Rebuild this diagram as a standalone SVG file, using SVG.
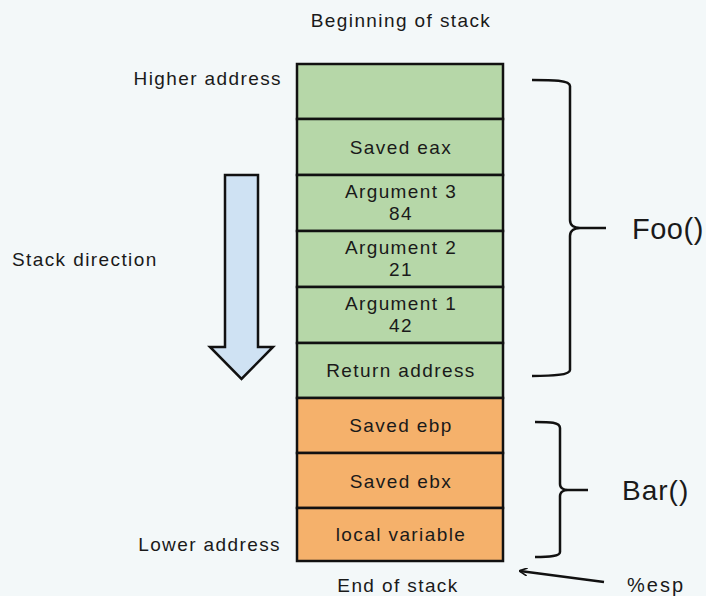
<svg xmlns="http://www.w3.org/2000/svg" width="706" height="596" viewBox="0 0 706 596">
<defs>
<style>
text{font-family:"Liberation Sans",Arial,sans-serif;fill:#1a1a1a}
.lbl{font-size:19px;letter-spacing:1.4px}
.cell{stroke:#111;stroke-width:2.5}
.g{fill:#b6d7a8}
.o{fill:#f5b16b}
.ct{font-size:19px;letter-spacing:1.4px;text-anchor:middle}
.big{font-size:28px}
.brace{fill:none;stroke:#111;stroke-width:2.5}
</style>
<marker id="ah" viewBox="0 0 10 10" refX="9" refY="5" markerWidth="8" markerHeight="8" orient="auto-start-reverse" markerUnits="userSpaceOnUse">
<path d="M0,0 L10,5 L0,10" fill="none" stroke="#111" stroke-width="2"/>
</marker>
</defs>
<rect width="706" height="596" fill="#f3f8f9"/>

<text class="lbl" x="401" y="27" text-anchor="middle">Beginning of stack</text>
<text class="lbl" x="282" y="85" text-anchor="end">Higher address</text>
<text class="lbl" x="12" y="266">Stack direction</text>
<text class="lbl" x="281" y="551" text-anchor="end">Lower address</text>
<text class="lbl" x="398" y="592" text-anchor="middle">End of stack</text>

<g id="stack-direction">
<path d="M225,175 L258,175 L258,347 L273,347 L241.5,379 L210,347 L225,347 Z" fill="#cfe2f3" stroke="#111" stroke-width="2.5" stroke-linejoin="miter"/>
</g>

<g id="cell-1"><rect class="cell g" x="297" y="64" width="206" height="55"/></g>
<g id="cell-2"><rect class="cell g" x="297" y="119" width="206" height="56"/><text class="ct" x="401" y="154">Saved eax</text></g>
<g id="cell-3"><rect class="cell g" x="297" y="175" width="206" height="56"/><text class="ct" x="401" y="198">Argument 3</text><text class="ct" x="401" y="220">84</text></g>
<g id="cell-4"><rect class="cell g" x="297" y="231" width="206" height="56"/><text class="ct" x="401" y="254">Argument 2</text><text class="ct" x="401" y="276">21</text></g>
<g id="cell-5"><rect class="cell g" x="297" y="287" width="206" height="56"/><text class="ct" x="401" y="310">Argument 1</text><text class="ct" x="401" y="332">42</text></g>
<g id="cell-6"><rect class="cell g" x="297" y="343" width="206" height="55"/><text class="ct" x="401" y="377">Return address</text></g>
<g id="cell-7"><rect class="cell o" x="297" y="398" width="206" height="55"/><text class="ct" x="401" y="432">Saved ebp</text></g>
<g id="cell-8"><rect class="cell o" x="297" y="453" width="206" height="55"/><text class="ct" x="401" y="488">Saved ebx</text></g>
<g id="cell-9"><rect class="cell o" x="297" y="508" width="206" height="53"/><text class="ct" x="401" y="541">local variable</text></g>

<g id="foo">
<path class="brace" d="M532,80 C552,80 570,80 570,86 L570,220 C570,226 575,228 580,228 L606,228 M580,228 C575,228 570,230 570,236 L570,370 C570,375 552,376 532,376"/>
<text class="big" x="632" y="239" style="font-size:29px;letter-spacing:0.5px">Foo()</text>
</g>
<g id="bar">
<path class="brace" d="M535,422 C550,422 560,422 560,428 L560,484 C560,488 564,490 568,490 L588,490 M568,490 C564,490 560,492 560,496 L560,552 C560,556 550,557 535,557"/>
<text class="big" x="622" y="500" style="letter-spacing:1px">Bar()</text>
</g>

<g id="connectors">
<line x1="604" y1="582" x2="520" y2="571" stroke="#111" stroke-width="2.5" marker-end="url(#ah)"/>
</g>
<text class="lbl" x="627" y="592" style="font-size:20px;letter-spacing:2px">%esp</text>
</svg>
